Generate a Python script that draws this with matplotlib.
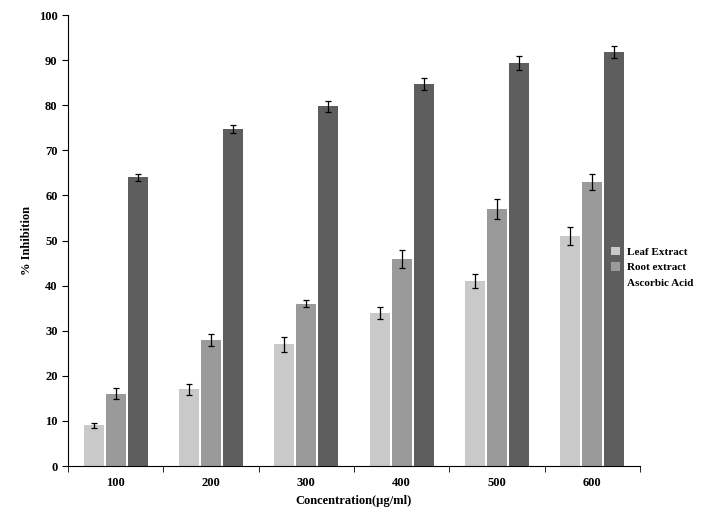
import numpy as np
import matplotlib.pyplot as plt

plt.rcParams['font.family'] = 'Liberation Serif'
plt.rcParams['font.weight'] = 'bold'

# data
concentrations = ['100', '200', '300', '400', '500', '600']
leaf = [9, 17, 27, 34, 41, 51]
leaf_err = [0.5, 1.2, 1.7, 1.3, 1.5, 2.0]
root = [16, 28, 36, 46, 57, 63]
root_err = [1.2, 1.3, 0.8, 2.0, 2.2, 1.7]
ascorbic = [64, 74.8, 79.8, 84.7, 89.4, 91.8]
ascorbic_err = [0.8, 0.9, 1.2, 1.4, 1.6, 1.4]

fig = plt.figure(figsize=(7.15, 5.19), dpi=100)
ax = fig.add_axes([0.095, 0.102, 0.80, 0.869])

x = np.arange(len(concentrations))
w = 0.21
step = 0.23
series = [
    (leaf, leaf_err, '#c9c9c9', 'Leaf Extract'),
    (root, root_err, '#9a9a9a', 'Root extract'),
    (ascorbic, ascorbic_err, '#5e5e5e', 'Ascorbic Acid'),
]
for i, (vals, errs, col, lab) in enumerate(series):
    ax.bar(x + (i - 1) * step, vals, w, color=col, label=lab,
           yerr=errs, capsize=2.5, error_kw={'elinewidth': 0.9, 'capthick': 0.9})

ax.set_xlim(-0.5, len(concentrations) - 0.5)
ax.set_ylim(0, 100)
ax.set_yticks(range(0, 101, 10))
ax.set_xticks(x)
ax.set_xticklabels(concentrations)
ax.set_xticks(np.arange(-0.5, len(concentrations)), minor=True)
ax.tick_params(axis='x', which='major', length=0, pad=8)
ax.tick_params(axis='x', which='minor', length=4, direction='out')
ax.tick_params(axis='y', direction='out', length=4)
for t in ax.get_xticklabels() + ax.get_yticklabels():
    t.set_fontsize(9)
    t.set_fontweight('bold')
ax.spines['top'].set_visible(False)
ax.spines['right'].set_visible(False)

ax.set_xlabel('Concentration(µg/ml)', fontsize=9, fontweight='bold')
ax.set_ylabel('% Inhibition', fontsize=9, fontweight='bold')

fig.legend(loc='center left', bbox_to_anchor=(0.855, 0.485), frameon=False,
           handlelength=0.8, handleheight=0.8, labelspacing=0.5,
           handletextpad=0.6, borderaxespad=0, borderpad=0,
           prop={'weight': 'bold', 'size': 8})

fig.savefig('out.png', dpi=100)
